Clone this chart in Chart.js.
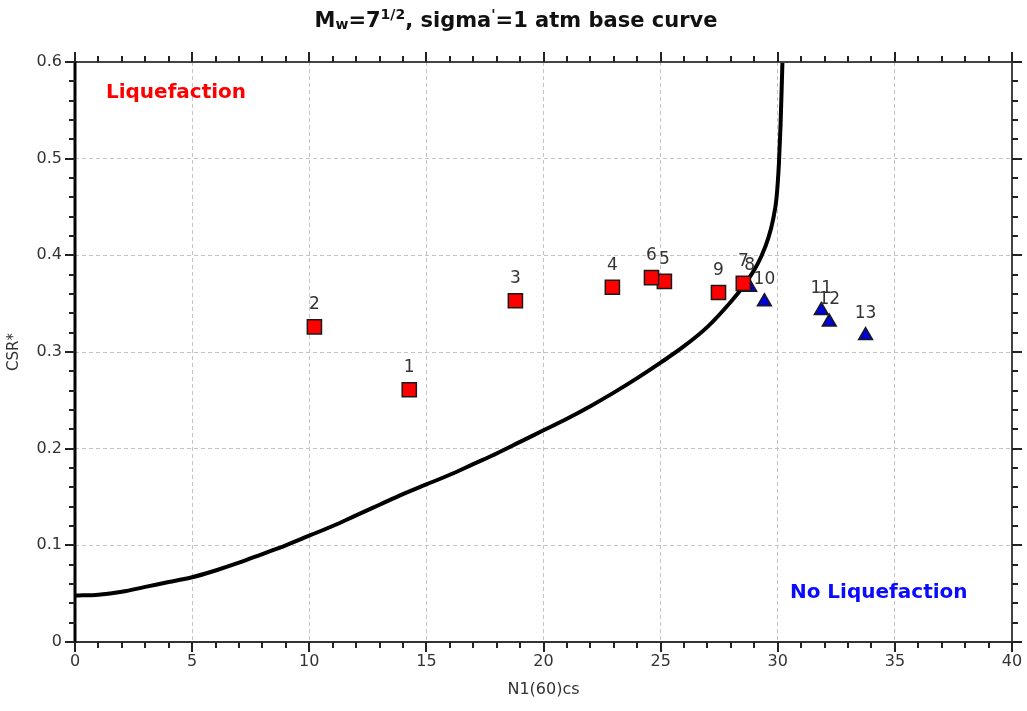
<!DOCTYPE html>
<html>
<head>
<meta charset="utf-8">
<script src="https://cdn.jsdelivr.net/npm/chart.js@4"></script>
<style>
html,body{margin:0;padding:0;background:#fff;}
#wrap{width:1027px;height:711px;position:relative;}
</style>
</head>
<body>
<div id="wrap"><canvas id="c" width="1027" height="711"></canvas></div>
<script>
// ---- data ----
const liqLabels = ['1','2','3','4','5','6','7','9'];
const liqN      = [14.27, 10.22, 18.80, 22.94, 25.16, 24.61, 28.53, 27.47];
const liqCSR    = [0.261, 0.326, 0.353, 0.367, 0.373, 0.377, 0.371, 0.3615];

const noLiqLabels = ['8','10','11','12','13'];
const noLiqN      = [28.80, 29.43, 31.86, 32.20, 33.75];
const noLiqCSR    = [0.367, 0.352, 0.343, 0.331, 0.317];

const curveN   = [0, 1, 2, 3, 4, 5, 6, 7, 8, 9, 10, 11, 12, 13, 14, 15, 16, 17, 18, 19, 20, 21, 22, 23, 24, 25, 26, 27, 28, 28.5, 29.0, 29.3, 29.6, 29.8, 29.95, 30.05, 30.12, 30.2];
const curveCSR = [0.048, 0.049, 0.052, 0.057, 0.062, 0.067, 0.074, 0.082, 0.091, 0.100, 0.110, 0.120, 0.131, 0.142, 0.153, 0.163, 0.173, 0.184, 0.195, 0.207, 0.219, 0.231, 0.244, 0.258, 0.273, 0.289, 0.306, 0.326, 0.352, 0.367, 0.385, 0.399, 0.418, 0.437, 0.460, 0.495, 0.535, 0.600];

const xTitle = 'N1(60)cs';
const yTitle = 'CSR*';
const regionLiq = {text: 'Liquefaction', n: 1.32, csr: 0.568};
const regionNoLiq = {text: 'No Liquefaction', n: 30.52, csr: 0.051};

const FONT = '"DejaVu Sans", Verdana, sans-serif';

const toXY = (xs, ys) => xs.map((v, i) => ({x: v, y: ys[i]}));

const framePlugin = {
  id: 'frame',
  afterDatasetsDraw(chart) {
    const ctx = chart.ctx;
    ctx.save();
    ctx.font = '17px ' + FONT;
    ctx.fillStyle = '#333';
    ctx.textAlign = 'center';
    ctx.textBaseline = 'middle';
    chart.data.datasets.forEach((ds, di) => {
      if (!ds.pointLabels) return;
      const meta = chart.getDatasetMeta(di);
      meta.data.forEach((el, i) => {
        ctx.fillText(ds.pointLabels[i], el.x, el.y - 22);
      });
    });
    ctx.restore();
  },
  afterDraw(chart) {
    const ctx = chart.ctx;
    const a = chart.chartArea;
    const xs = chart.scales.x, ys = chart.scales.y;
    ctx.save();
    ctx.lineCap = 'butt';
    ctx.strokeStyle = '#444'; ctx.lineWidth = 2;
    ctx.beginPath(); ctx.moveTo(a.left, a.top); ctx.lineTo(a.right, a.top); ctx.stroke();
    ctx.beginPath(); ctx.moveTo(a.right, a.top); ctx.lineTo(a.right, a.bottom); ctx.stroke();
    ctx.strokeStyle = '#333'; ctx.lineWidth = 2;
    ctx.beginPath(); ctx.moveTo(a.left, a.bottom); ctx.lineTo(a.right + 1, a.bottom); ctx.stroke();
    ctx.strokeStyle = '#000'; ctx.lineWidth = 3;
    ctx.beginPath(); ctx.moveTo(a.left, a.top - 1); ctx.lineTo(a.left, a.bottom + 1); ctx.stroke();
    ctx.strokeStyle = '#222'; ctx.lineWidth = 2;
    for (let i = 0; i <= 40; i++) {
      const px = Math.round(xs.getPixelForValue(i));
      const len = i % 5 === 0 ? 10 : 6;
      ctx.beginPath();
      ctx.moveTo(px, a.bottom); ctx.lineTo(px, a.bottom + len);
      ctx.moveTo(px, a.top); ctx.lineTo(px, a.top - len);
      ctx.stroke();
    }
    for (let i = 0; i <= 30; i++) {
      const py = Math.round(ys.getPixelForValue(i * 0.02));
      const len = i % 5 === 0 ? 10 : 6;
      ctx.beginPath();
      ctx.moveTo(a.left, py); ctx.lineTo(a.left - len, py);
      ctx.moveTo(a.right, py); ctx.lineTo(a.right + len, py);
      ctx.stroke();
    }
    ctx.font = 'bold 20px ' + FONT;
    ctx.textAlign = 'left'; ctx.textBaseline = 'middle';
    ctx.fillStyle = '#ff0000';
    ctx.fillText(regionLiq.text, xs.getPixelForValue(regionLiq.n), ys.getPixelForValue(regionLiq.csr));
    ctx.fillStyle = '#0a0aff';
    ctx.fillText(regionNoLiq.text, xs.getPixelForValue(regionNoLiq.n), ys.getPixelForValue(regionNoLiq.csr));
    const parts = [
      {t: 'M', k: 'n'}, {t: 'w', k: 'sub'}, {t: '=7', k: 'n'}, {t: '1/2', k: 'sup'},
      {t: ', sigma', k: 'n'}, {t: "'", k: 'sup'}, {t: '=1 atm base curve', k: 'n'}
    ];
    const fN = 'bold 21px ' + FONT, fS = 'bold 14px ' + FONT;
    let total = 0;
    parts.forEach(p => { ctx.font = p.k === 'n' ? fN : fS; p.w = ctx.measureText(p.t).width; total += p.w; });
    let x = 516 - total / 2;
    const base = 27;
    ctx.fillStyle = '#111'; ctx.textBaseline = 'alphabetic';
    parts.forEach(p => {
      ctx.font = p.k === 'n' ? fN : fS;
      const yy = p.k === 'sub' ? base + 2 : (p.k === 'sup' ? base - 8 : base);
      ctx.fillText(p.t, x, yy);
      x += p.w;
    });
    ctx.restore();
  }
};

new Chart(document.getElementById('c'), {
  type: 'scatter',
  data: {
    datasets: [
      {
        label: 'Liquefaction',
        data: toXY(liqN, liqCSR),
        pointLabels: liqLabels,
        pointStyle: 'rect',
        pointRadius: 10,
        pointHoverRadius: 10,
        backgroundColor: '#ff0000',
        borderColor: '#1a1a1a',
        borderWidth: 1.5,
        order: 0
      },
      {
        label: 'No Liquefaction',
        data: toXY(noLiqN, noLiqCSR),
        pointLabels: noLiqLabels,
        pointStyle: 'triangle',
        pointRadius: 8,
        pointHoverRadius: 8,
        backgroundColor: '#0000d8',
        borderColor: '#1a1a1a',
        borderWidth: 1.5,
        order: 1
      },
      {
        label: 'Base curve',
        type: 'line',
        data: toXY(curveN, curveCSR),
        borderColor: '#000',
        borderWidth: 4,
        pointRadius: 0,
        cubicInterpolationMode: 'monotone',
        fill: false,
        order: 2
      }
    ]
  },
  options: {
    responsive: false,
    animation: false,
    events: [],
    layout: {padding: {left: 0, top: 62, right: 15, bottom: 0}},
    plugins: {legend: {display: false}, tooltip: {enabled: false}, title: {display: false}},
    scales: {
      x: {
        type: 'linear', min: 0, max: 40,
        afterFit: s => { s.height = 69; s.paddingLeft = 0; s.paddingRight = 0; },
        ticks: {stepSize: 5, font: {size: 16, family: FONT}, color: '#333', padding: 10, maxRotation: 0},
        grid: {color: '#c4c4c4', lineWidth: 1, drawTicks: false},
        border: {display: false, dash: [4, 3]},
        title: {display: true, text: xTitle, font: {size: 16, family: FONT}, color: '#333', padding: {top: 0, bottom: 12}}
      },
      y: {
        type: 'linear', min: 0, max: 0.6,
        afterFit: s => { s.width = 75; s.paddingTop = 0; s.paddingBottom = 0; },
        ticks: {stepSize: 0.1, font: {size: 16, family: FONT}, color: '#333', padding: 13},
        grid: {color: '#c4c4c4', lineWidth: 1, drawTicks: false},
        border: {display: false, dash: [4, 3]},
        title: {display: true, text: yTitle, font: {size: 15, family: FONT}, color: '#333', padding: {top: 5, bottom: 0}}
      }
    }
  },
  plugins: [framePlugin]
});
</script>
</body>
</html>
